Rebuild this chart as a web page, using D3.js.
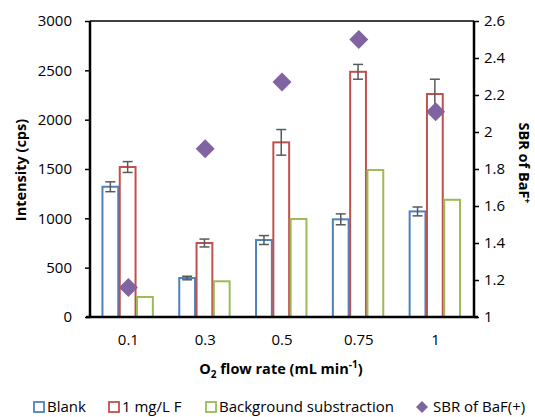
<!DOCTYPE html>
<html>
<head>
<meta charset="utf-8">
<script src="https://d3js.org/d3.v7.min.js"></script>
<style>
body { margin: 0; background: #fff; }
text { font-family: "Open Sans", sans-serif; fill: #000; }
</style>
</head>
<body>
<svg width="535" height="417"></svg>
<script>
// data
var flowRates = ["0.1", "0.3", "0.5", "0.75", "1"];
var blank = [1320, 395, 780, 990, 1070];
var blankErr = [50, 18, 45, 55, 45];
var fluoride = [1520, 750, 1770, 2485, 2260];
var fluorideErr = [55, 40, 130, 75, 150];
var background = [203, 362, 993, 1490, 1188];
var sbr = [1.16, 1.91, 2.27, 2.50, 2.11];
var leftTicks = [0, 500, 1000, 1500, 2000, 2500, 3000];
var rightTicks = [1, 1.2, 1.4, 1.6, 1.8, 2, 2.2, 2.4, 2.6];

var colors = { blank: "#4F81BD", f: "#C0504D", bg: "#9BBB59", sbr: "#8064A2" };

var svg = d3.select("svg");
var pLeft = 90, pRight = 474, pTop = 21, pBottom = 317;

var x = d3.scaleBand().domain(flowRates).range([pLeft, pRight]);
var y = d3.scaleLinear().domain([0, 3000]).range([pBottom, pTop]);
var y2 = d3.scaleLinear().domain([1, 2.6]).range([pBottom, pTop]);

var barW = 17.3;
var series = [
  { vals: blank, err: blankErr, color: colors.blank, off: -1.5 },
  { vals: fluoride, err: fluorideErr, color: colors.f, off: -0.5 },
  { vals: background, err: null, color: colors.bg, off: 0.5 }
];

var plot = svg.append("g");

series.forEach(function(s) {
  plot.selectAll(null)
    .data(flowRates)
    .enter()
    .append("rect")
    .attr("x", function(d) { return x(d) + x.bandwidth() / 2 + s.off * barW; })
    .attr("y", function(d, i) { return y(s.vals[i]); })
    .attr("width", barW - 1.5)
    .attr("height", function(d, i) { return pBottom - y(s.vals[i]); })
    .attr("fill", "#fff")
    .attr("stroke", s.color)
    .attr("stroke-width", 2);

  if (s.err) {
    var eb = plot.selectAll(null)
      .data(flowRates)
      .enter()
      .append("g")
      .attr("stroke", "#595959")
      .attr("stroke-width", 1.5);
    var cx = function(d) { return x(d) + x.bandwidth() / 2 + (s.off + 0.5) * barW - 0.75; };
    eb.append("line")
      .attr("x1", cx).attr("x2", cx)
      .attr("y1", function(d, i) { return y(s.vals[i] + s.err[i]); })
      .attr("y2", function(d, i) { return y(s.vals[i] - s.err[i]); });
    eb.append("line")
      .attr("x1", function(d) { return cx(d) - 5; }).attr("x2", function(d) { return cx(d) + 5; })
      .attr("y1", function(d, i) { return y(s.vals[i] + s.err[i]); })
      .attr("y2", function(d, i) { return y(s.vals[i] + s.err[i]); });
    eb.append("line")
      .attr("x1", function(d) { return cx(d) - 5; }).attr("x2", function(d) { return cx(d) + 5; })
      .attr("y1", function(d, i) { return y(s.vals[i] - s.err[i]); })
      .attr("y2", function(d, i) { return y(s.vals[i] - s.err[i]); });
  }
});

// SBR diamonds
plot.selectAll(null)
  .data(flowRates)
  .enter()
  .append("path")
  .attr("d", "M0,-9.5L9.5,0L0,9.5L-9.5,0Z")
  .attr("fill", colors.sbr)
  .attr("transform", function(d, i) {
    return "translate(" + (x(d) + x.bandwidth() / 2) + "," + y2(sbr[i]) + ")";
  });

// top border
svg.append("line")
  .attr("x1", pLeft).attr("x2", pRight)
  .attr("y1", pTop).attr("y2", pTop)
  .attr("stroke", "#000").attr("stroke-width", 1.5);

// axes
var yAxis = svg.append("g")
  .attr("transform", "translate(" + pLeft + ",0)")
  .call(d3.axisLeft(y).tickValues(leftTicks).tickSize(5).tickPadding(13).tickFormat(d3.format("d")));
var y2Axis = svg.append("g")
  .attr("transform", "translate(" + pRight + ",0)")
  .call(d3.axisRight(y2).tickValues(rightTicks).tickSize(5).tickPadding(5)
    .tickFormat(function(d) { return d3.format("")(+d.toFixed(1)); }));
var xAxis = svg.append("g")
  .attr("transform", "translate(0," + pBottom + ")")
  .call(d3.axisBottom(x).tickSize(0).tickPadding(17));

[yAxis, y2Axis, xAxis].forEach(function(a) {
  a.select(".domain").attr("stroke", "#000").attr("stroke-width", 2.5);
  a.selectAll(".tick line").attr("stroke", "#000").attr("stroke-width", 1.5);
  a.selectAll("text").style("font-size", "15px").attr("fill", "#000")
    .style("font-family", "'Open Sans', sans-serif");
});
// flatten the outer ticks on the domain paths
yAxis.select(".domain").attr("d", "M0," + pBottom + "V" + pTop);
y2Axis.select(".domain").attr("d", "M0," + pBottom + "V" + pTop);
xAxis.select(".domain").attr("d", "M" + (pLeft - 4) + ",0H" + (pRight + 4));

// axis titles
svg.append("text")
  .attr("transform", "translate(26,170) rotate(-90)")
  .attr("text-anchor", "middle")
  .style("font-size", "14.5px").style("font-weight", "bold")
  .text("Intensity (cps)");

var t2 = svg.append("text")
  .attr("transform", "translate(519,163) rotate(90)")
  .attr("text-anchor", "middle")
  .style("font-size", "14.5px").style("font-weight", "bold");
t2.append("tspan").text("SBR of BaF");
t2.append("tspan").attr("dy", -5).style("font-size", "9px").text("+");

var xt = svg.append("text")
  .attr("x", 281).attr("y", 374)
  .attr("text-anchor", "middle")
  .style("font-size", "14.5px").style("font-weight", "bold");
xt.append("tspan").text("O");
xt.append("tspan").attr("dy", 4).style("font-size", "10px").text("2");
xt.append("tspan").attr("dy", -4).text(" flow rate (mL min");
xt.append("tspan").attr("dy", -6).style("font-size", "10px").text("-1");
xt.append("tspan").attr("dy", 6).text(")");

// legend
var legendItems = [
  { label: "Blank", color: colors.blank, x: 33, type: "box" },
  { label: "1 mg/L F", color: colors.f, x: 108, type: "box" },
  { label: "Background substraction", color: colors.bg, x: 205, type: "box" },
  { label: "SBR of BaF(+)", color: colors.sbr, x: 416, type: "diamond" }
];
var lg = svg.append("g").selectAll(null)
  .data(legendItems)
  .enter()
  .append("g")
  .attr("transform", function(d) { return "translate(" + d.x + ",408)"; });
lg.filter(function(d) { return d.type == "box"; })
  .append("rect")
  .attr("x", 1).attr("y", -6).attr("width", 10).attr("height", 10)
  .attr("fill", "#fff").attr("stroke", function(d) { return d.color; }).attr("stroke-width", 1.8);
lg.filter(function(d) { return d.type == "diamond"; })
  .append("path")
  .attr("d", "M6,-7L12,-1L6,5L0,-1Z")
  .attr("fill", function(d) { return d.color; });
lg.append("text")
  .attr("x", function(d) { return d.type == "box" ? 14 : 17; })
  .attr("y", 4)
  .style("font-size", "15px")
  .text(function(d) { return d.label; });
</script>
</body>
</html>
